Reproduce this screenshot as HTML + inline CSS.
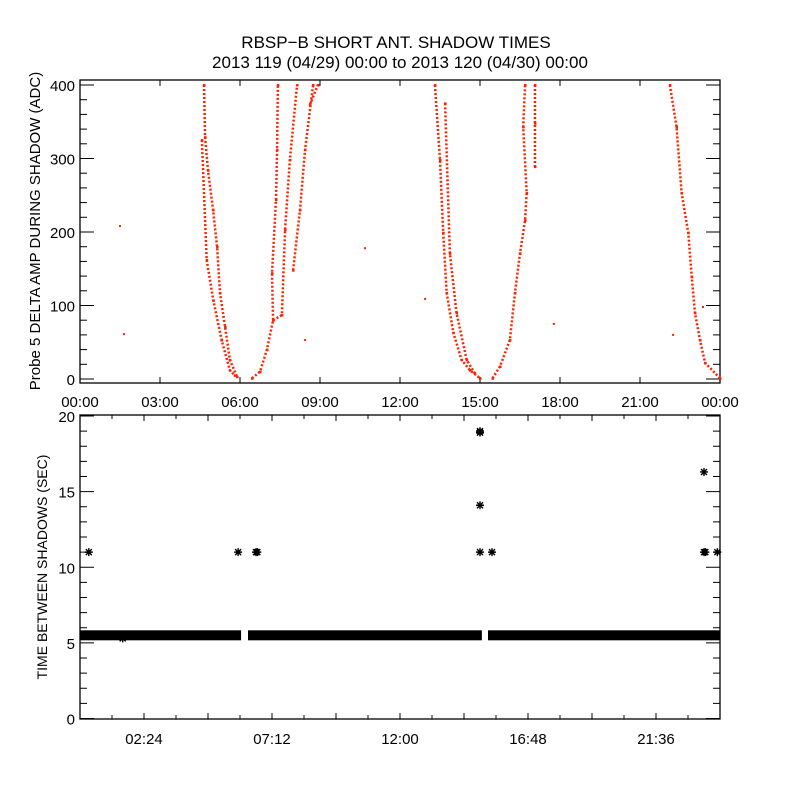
<!DOCTYPE html>
<html><head><meta charset="utf-8"><style>
body{margin:0;background:#fff}
svg text{font-family:"Liberation Sans",sans-serif;fill:#000}
</style></head><body>
<svg id="c" width="800" height="800" xmlns="http://www.w3.org/2000/svg">
<rect width="800" height="800" fill="#fff"/>
<text x="396" y="48" font-size="17" text-anchor="middle">RBSP−B SHORT ANT. SHADOW TIMES</text>
<text x="400" y="68" font-size="17" text-anchor="middle">2013 119 (04/29) 00:00 to 2013 120 (04/30) 00:00</text>
<text transform="translate(40,231) rotate(-90)" font-size="15" text-anchor="middle">Probe 5 DELTA AMP DURING SHADOW (ADC)</text>
<text transform="translate(47,567) rotate(-90)" font-size="14" text-anchor="middle">TIME BETWEEN SHADOWS (SEC)</text>
<g id="topPanel"></g><g id="botPanel"></g>
</svg>
<script>
// top panel data: strands of [hour, ADC]
const strand1 = [[4.65,400],[4.69,329],[4.8,284],[4.99,230],[5.14,180],[5.25,117],[5.44,71],[5.62,26],[5.89,3]];
const strand1b = [[4.57,325],[4.75,162],[5.0,107],[5.31,53],[5.62,12],[5.8,5]];
const strand2 = [[6.45,1],[6.75,10],[7.01,40],[7.24,80],[7.2,144],[7.35,244],[7.39,312],[7.42,400]];
const strand2b = [[7.24,80],[7.57,87],[7.69,203],[7.87,298],[8.14,400]];
const strand2c = [[7.99,148],[8.25,230],[8.44,312],[8.74,400]];
const strand2d = [[8.62,373],[8.92,400]];
const strand3 = [[13.31,400],[13.5,298],[13.62,199],[13.75,117],[14.0,63],[14.31,26],[14.62,12],[15.0,1]];
const strand3b = [[13.69,375],[13.87,171],[14.12,90],[14.5,26],[14.8,8]];
const strand4 = [[15.47,1],[15.75,17],[16.12,53],[16.31,117],[16.5,171],[16.69,216],[16.75,253],[16.62,343],[16.69,400]];
const strand4b = [[17.06,400],[17.06,348],[17.06,289]];
const strand5 = [[22.12,400],[22.37,343],[22.56,253],[22.81,199],[22.94,139],[23.06,90],[23.25,53],[23.44,22],[24,1]];
const isolated = [[1.5,208],[1.65,61],[10.69,178],[8.44,53],[12.94,109],[17.77,75],[22.24,60],[23.36,98]];
const topXTicks = ["00:00","03:00","06:00","09:00","12:00","15:00","18:00","21:00","00:00"];
const topYTicks = [0,100,200,300,400];
// bottom panel data
const bandLevel = 5.5;
const bandSegments = [[0,6.04],[6.3,15.07],[15.3,24]];
const stars = [[0.33,11],[1.6,5.3],[1.7,5.5],[5.93,11],[6.6,11],[6.65,11],[15.0,19],[15.0,18.9],[15.0,14.1],[15.0,11],[15.45,11],[23.4,16.3],[23.4,11],[23.45,11],[23.9,11]];
const botXTicks = ["02:24","07:12","12:00","16:48","21:36"];
const botYTicks = [0,5,10,15,20];

const NS="http://www.w3.org/2000/svg";
function mk(p,t,a){const e=document.createElementNS(NS,t);for(const k in a)e.setAttribute(k,a[k]);p.appendChild(e);return e;}
const X=h=>80+h*640/24;
const Yt=v=>379-v*0.735;
const Yb=v=>718.5-v*(302.5/20);
const topG=document.getElementById('topPanel'), botG=document.getElementById('botPanel');

// top frame
let f=mk(topG,'rect',{x:80,y:80,width:640,height:303,fill:'none',stroke:'#000','stroke-width':1.3});


for(let v=0;v<=400;v+=20){const y=Yt(v);const L=v%100===0?14:7;
 mk(topG,'line',{x1:80,y1:y,x2:80+L,y2:y,stroke:'#000'});mk(topG,'line',{x1:720,y1:y,x2:720-L,y2:y,stroke:'#000'});}
topYTicks.forEach(v=>{const t=mk(topG,'text',{x:75,y:Yt(v)+6,'font-size':15,'text-anchor':'end'});t.textContent=v;
 
 });
topXTicks.forEach((s,i)=>{const x=X(i*3);
 mk(topG,'line',{x1:x,y1:80,x2:x,y2:86,stroke:'#000'});mk(topG,'line',{x1:x,y1:383,x2:x,y2:377,stroke:'#000'});
 const t=mk(topG,'text',{x:x,y:407,'font-size':15,'text-anchor':'middle'});t.textContent=s;
 
 });
[strand1,strand1b,strand2,strand2b,strand2c,strand2d,strand3,strand3b,strand4,strand4b,strand5].forEach(s=>{
 const pts=s.map(p=>X(p[0])+','+Yt(p[1])).join(' ');
 const pl=mk(topG,'polyline',{points:pts,fill:'none',stroke:'#ff2000','stroke-width':2.5,'stroke-dasharray':'2 2'});
 
 
 s.forEach(p=>{const r=mk(topG,'rect',{x:X(p[0])-1,y:Yt(p[1])-1,width:2.5,height:2.5,fill:'#ff2000'});
  
  });
});
isolated.forEach(p=>{const r=mk(topG,'rect',{x:X(p[0])-1,y:Yt(p[1])-1,width:2,height:2,fill:'#ff2000'});
 
 });

// bottom frame
f=mk(botG,'rect',{x:80,y:415,width:640,height:304,fill:'none',stroke:'#000','stroke-width':1.3});


for(let v=0;v<=20;v+=1){const y=Yb(v);const L=v%5===0?14:7;
 mk(botG,'line',{x1:80,y1:y,x2:80+L,y2:y,stroke:'#000'});mk(botG,'line',{x1:720,y1:y,x2:720-L,y2:y,stroke:'#000'});}
botYTicks.forEach(v=>{const t=mk(botG,'text',{x:75,y:Yb(v)+6,'font-size':15,'text-anchor':'end'});t.textContent=v;
 
 });
for(let i=1;i<20;i++){const x=X(i*1.2);const L=i%2===0?6:4;
 mk(botG,'line',{x1:x,y1:415,x2:x,y2:415+L,stroke:'#000'});mk(botG,'line',{x1:x,y1:719,x2:x,y2:719-L,stroke:'#000'});}
botXTicks.forEach((s,i)=>{const t=mk(botG,'text',{x:X((i*2+1)*2.4),y:744,'font-size':15,'text-anchor':'middle'});t.textContent=s;
 
 });
bandSegments.forEach(s=>{const r=mk(botG,'rect',{x:X(s[0]),y:Yb(bandLevel)-5,width:X(s[1])-X(s[0]),height:10,fill:'#000'});
 
 });
stars.forEach(p=>{const x=X(p[0]),y=Yb(p[1]);
 const g=mk(botG,'path',{d:`M${x-4},${y}H${x+4}M${x},${y-4}V${y+4}M${x-3},${y-3}L${x+3},${y+3}M${x-3},${y+3}L${x+3},${y-3}`,stroke:'#000','stroke-width':1.4});
 
 });
</script>
</body></html>
